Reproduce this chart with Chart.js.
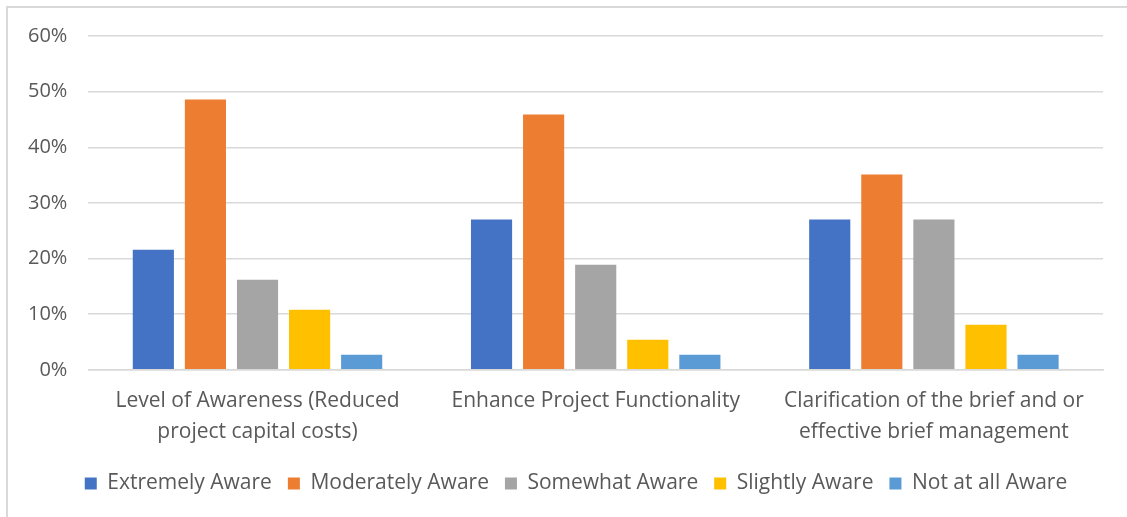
<!DOCTYPE html>
<html>
<head>
<meta charset="utf-8">
<script src="https://cdn.jsdelivr.net/npm/chart.js@4"></script>
<style>
  html, body { margin: 0; padding: 0; background: #fff; }
  #frame {
    position: absolute; left: 6px; top: 6px; width: 1200px; height: 600px;
    border-left: 2px solid #d9d9d9; border-top: 2px solid #d9d9d9;
  }
  #wrap { position: absolute; left: 0; top: 0; width: 1127px; height: 517px; }
</style>
</head>
<body>
<div id="frame"></div>
<div id="wrap"><canvas id="myChart"></canvas></div>
<script>
const categories = [
    ['Level of Awareness (Reduced', 'project capital costs)'],
    'Enhance Project Functionality',
    ['Clarification of the brief and or', 'effective brief management']
];
const seriesNames  = ['Extremely Aware', 'Moderately Aware', 'Somewhat Aware', 'Slightly Aware', 'Not at all Aware'];
const extremely    = [21.6, 27.0, 27.0];
const moderately   = [48.6, 45.9, 35.1];
const somewhat     = [16.2, 18.9, 27.0];
const slightly     = [10.8, 5.4, 8.1];
const notAtAll     = [2.7, 2.7, 2.7];
const colors       = ['#4472C4', '#ED7D31', '#A5A5A5', '#FFC000', '#5B9BD5'];
const yTicks       = [0, 10, 20, 30, 40, 50, 60];

const seriesValues = [extremely, moderately, somewhat, slightly, notAtAll];
const FONT = 'Open Sans';
const GREY = '#595959';

const myChart = document.getElementById('myChart');

// nudge the legend a bit right and up, like the excel original
const legendShift = {
    id: 'legendShift',
    afterLayout(chart) {
        const lg = chart.legend;
        lg.left += 21; lg.right += 21;
        lg.top -= 7; lg.bottom -= 7;
    }
};

const barChart = new Chart(myChart, {
    type: 'bar',
    data: {
        labels: categories,
        datasets: seriesNames.map((name, i) => ({
            label: name,
            data: seriesValues[i],
            backgroundColor: colors[i],
            categoryPercentage: 0.77,
            barPercentage: 0.79
        }))
    },
    options: {
        responsive: true,
        maintainAspectRatio: false,
        animation: false,
        layout: { padding: { left: 7, right: 24, top: 36, bottom: 6 } },
        plugins: {
            tooltip: { enabled: false },
            legend: {
                position: 'bottom',
                labels: {
                    boxWidth: 12,
                    boxHeight: 12,
                    padding: 16,
                    color: GREY,
                    font: { family: FONT, size: 21 }
                }
            }
        },
        scales: {
            x: {
                grid: { display: false, drawTicks: false },
                border: { color: '#d9d9d9', width: 1.5 },
                ticks: {
                    color: GREY,
                    padding: 16,
                    maxRotation: 0,
                    autoSkip: false,
                    font: { family: FONT, size: 21, lineHeight: 1.48 }
                }
            },
            y: {
                min: 0,
                max: 60,
                afterBuildTicks: axis => { axis.ticks = yTicks.map(v => ({ value: v })); },
                grid: { color: '#d9d9d9', lineWidth: 1.5, drawTicks: false },
                border: { display: false },
                ticks: {
                    color: GREY,
                    padding: 21,
                    font: { family: FONT, size: 20 },
                    callback: v => v + '%'
                }
            }
        }
    },
    plugins: [legendShift]
});
</script>
</body>
</html>
